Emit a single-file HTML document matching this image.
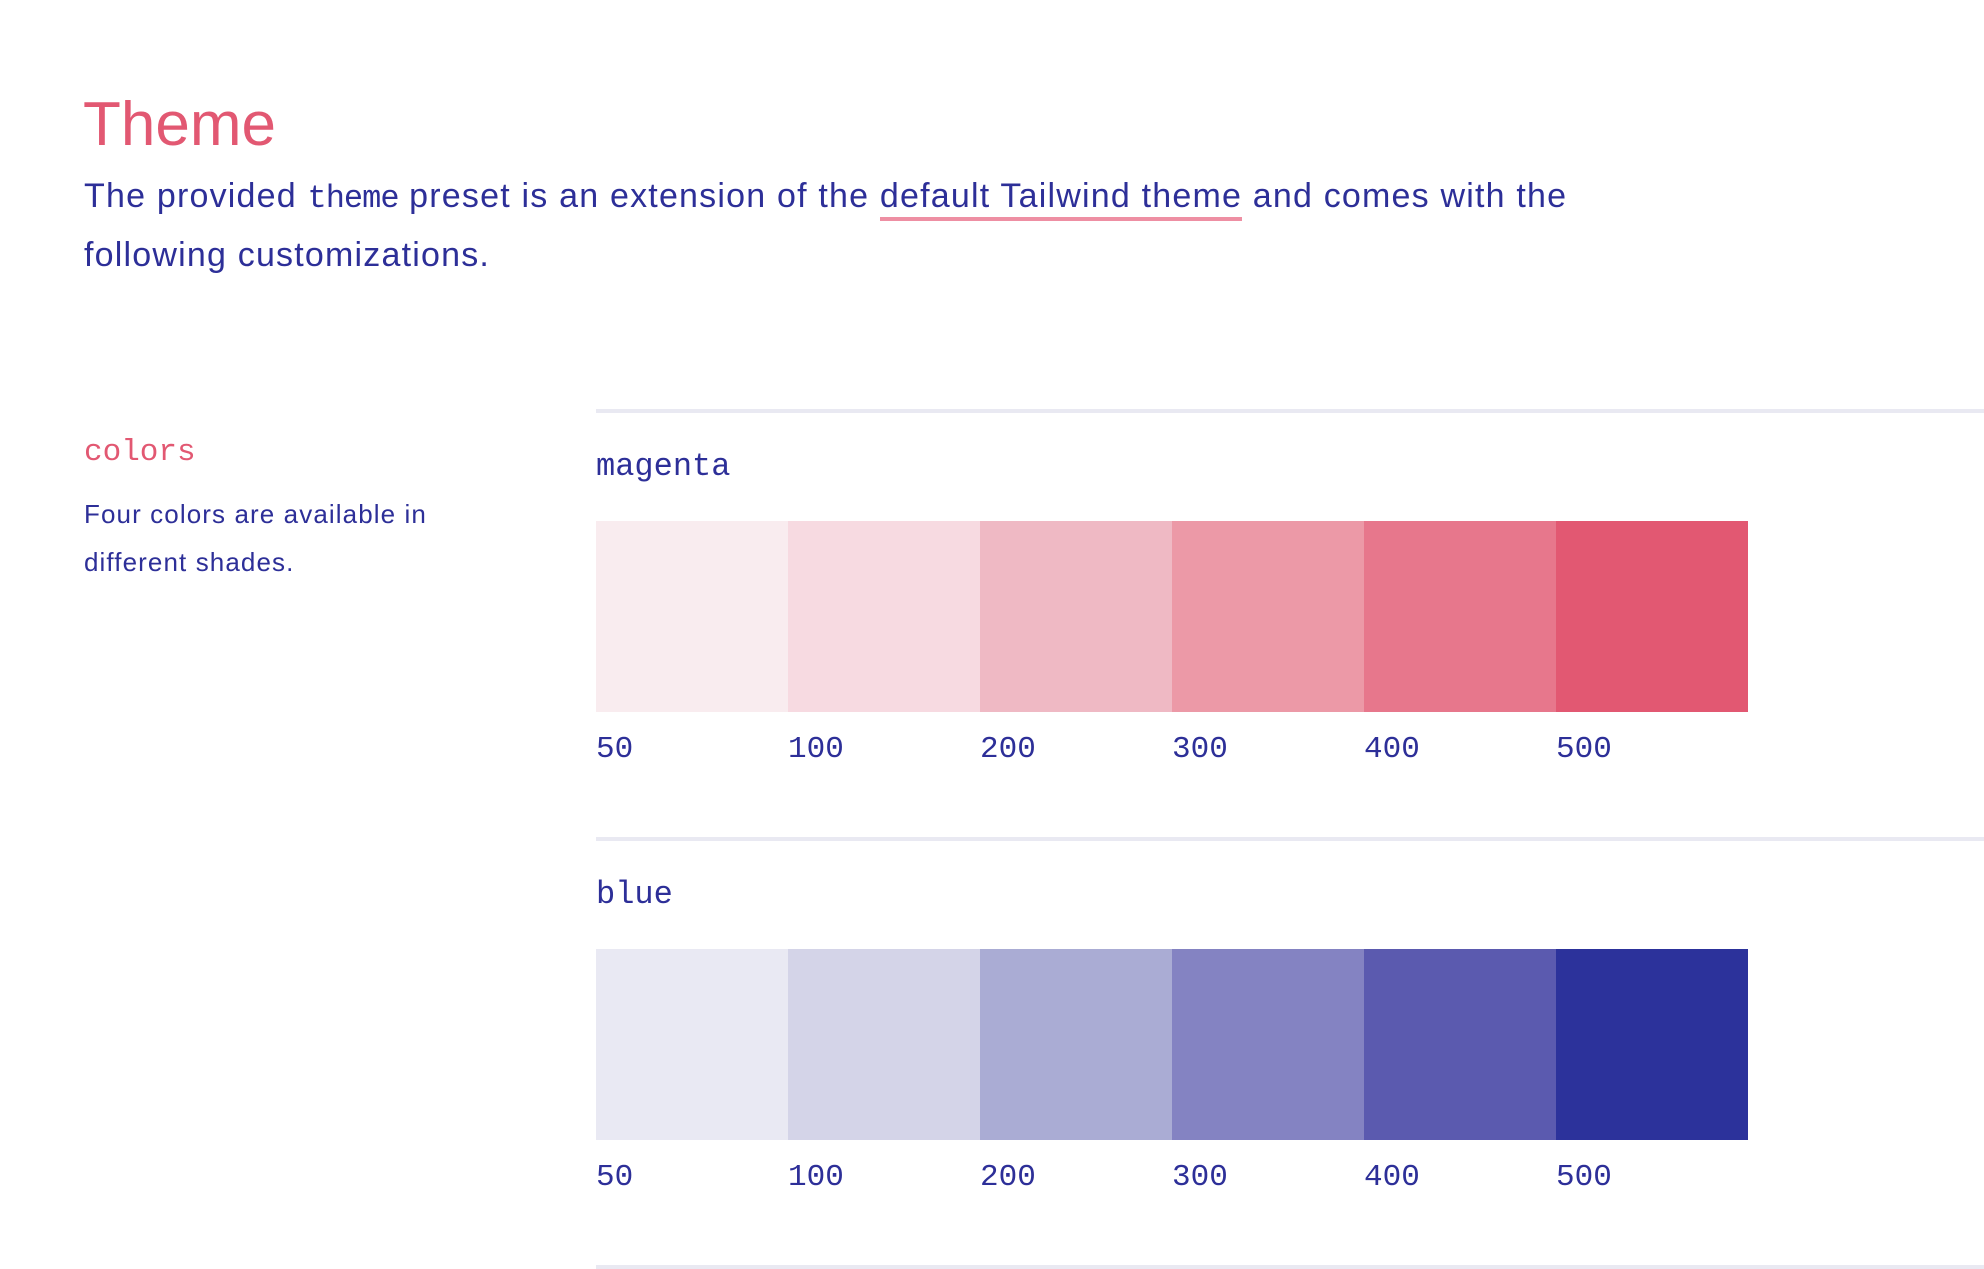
<!DOCTYPE html>
<html><head><meta charset="utf-8"><style>
body{margin:0;width:1984px;height:1268px;background:#fff;position:relative;overflow:hidden;font-family:"Liberation Sans",sans-serif;color:#2d2f98}
.a{position:absolute;white-space:nowrap}
.mono{font-family:"Liberation Mono",monospace}
.rule{position:absolute;left:596px;right:0;height:4px;background:#e9e9f2}
.sw{position:absolute;height:191px}
.lb{position:absolute;font-family:"Liberation Mono",monospace;font-size:31px;line-height:30px}
</style></head><body>
<div class="a" style="left:83px;top:90px;font-size:62px;line-height:70px;color:#e25872;letter-spacing:0px">Theme</div>
<div class="a" style="left:84px;top:176px;font-size:34px;line-height:40px;letter-spacing:1.2px">The provided <span class="mono" style="font-size:32px;letter-spacing:-1px">theme</span> preset is an extension of the <span style="border-bottom:4px solid #ee8fa3;padding-bottom:2px">default Tailwind theme</span> and comes with the</div>
<div class="a" style="left:84px;top:235px;font-size:34px;line-height:40px;letter-spacing:1.2px">following customizations.</div>
<div class="a mono" style="left:84px;top:435px;font-size:31px;line-height:36px;color:#e25872">colors</div>
<div class="a" style="left:84px;top:490px;font-size:26px;line-height:48px;letter-spacing:1.1px;white-space:normal;width:460px">Four colors are available in<br>different shades.</div>
<div id="c"></div>
<script>
const paletteNames=["magenta","blue"];
const shadeLabels=["50","100","200","300","400","500"];
const magentaShades=["#f9ecef","#f7dae1","#efb9c4","#ec99a7","#e7778c","#e25872"];
const blueShades=["#e9e9f3","#d4d4e8","#aaacd4","#8483c2","#5b5aaf","#2c329b"];
const shadeSets=[magentaShades,blueShades];
const c=document.getElementById('c');
paletteNames.forEach((n,i)=>{
  const y0=409+i*428;
  const r=document.createElement('div');r.className='rule';r.style.top=y0+'px';
  
  
  c.appendChild(r);
  const t=document.createElement('div');t.className='a mono';t.textContent=n;
  t.style.cssText='left:596px;top:'+(y0+40)+'px;font-size:32px;line-height:36px';
  
  
  c.appendChild(t);
  shadeSets[i].forEach((col,j)=>{
    const s=document.createElement('div');s.className='sw';
    s.style.cssText='left:'+(596+j*192)+'px;top:'+(y0+112)+'px;width:192px;background:'+col;
    
    
    c.appendChild(s);
    const l=document.createElement('div');l.className='lb';l.textContent=shadeLabels[j];
    l.style.left=(596+j*192)+'px';l.style.top=(y0+326)+'px';
    
    
    c.appendChild(l);
  });
});
const r3=document.createElement('div');r3.className='rule';r3.style.top='1265px';


c.appendChild(r3);
</script>
</body></html>
